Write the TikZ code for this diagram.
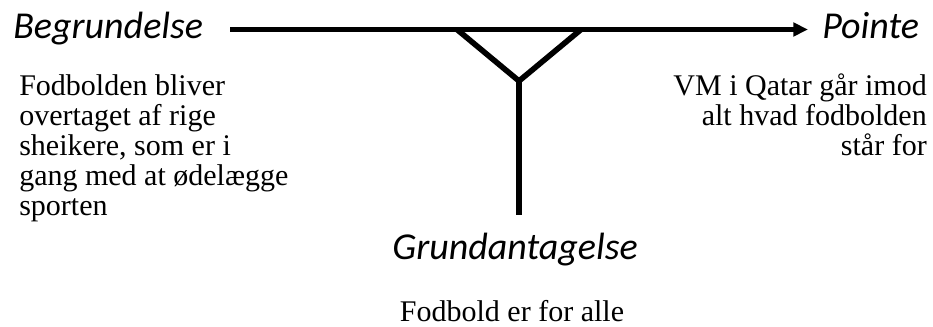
\documentclass[tikz,border=0pt]{standalone}
\usepackage{fontspec}
\setmainfont{Liberation Serif}
\newfontfamily\headfont{Carlito}
\usetikzlibrary{arrows.meta}

\tikzset{
  heading/.style={font=\headfont\itshape\fontsize{28.5}{30}\selectfont, inner sep=0pt},
  body/.style={font=\fontsize{22.5}{22.5}\selectfont, inner sep=0pt},
  bar/.style={line width=4.2pt, line join=miter}
}

\begin{document}
\begin{tikzpicture}[x=0.75pt,y=-0.75pt]
  \useasboundingbox (0,0) rectangle (933,327);

  % headings
  \node[heading, anchor=base west] (begr) at (13,39) {Begrundelse};
  \node[heading, anchor=base west] (pointe) at (822,39) {Pointe};
  \node[heading, anchor=base] (grund) at (515,260) {Grundantagelse};

  % texts (base = last line)
  \node[body, anchor=base west, align=left] (begrtxt) at (19,215.7)
    {Fodbolden bliver\\overtaget af rige\\sheikere, som er i\\gang med at ødelægge\\sporten};
  \node[body, anchor=base east, align=right] (pointetxt) at (927,155.7)
    {VM i Qatar går imod\\alt hvad fodbolden\\står for};
  \node[body, anchor=base] (grundtxt) at (512,321.7) {Fodbold er for alle};

  % the line and the fork
  \coordinate (start) at (230,29.5);
  \coordinate (tip) at (808,29.5);
  \coordinate (forkL) at (457,29.5);
  \coordinate (forkR) at (581,29.5);
  \coordinate (fork) at (519,81);
  \coordinate (foot) at (519,215);

  \draw[bar, -{Triangle[length=11pt,width=10pt]}] (start) -- (tip);
  \draw[bar] (forkL) -- (fork) -- (forkR);
  \draw[bar] (fork) -- (foot);
\end{tikzpicture}
\end{document}
